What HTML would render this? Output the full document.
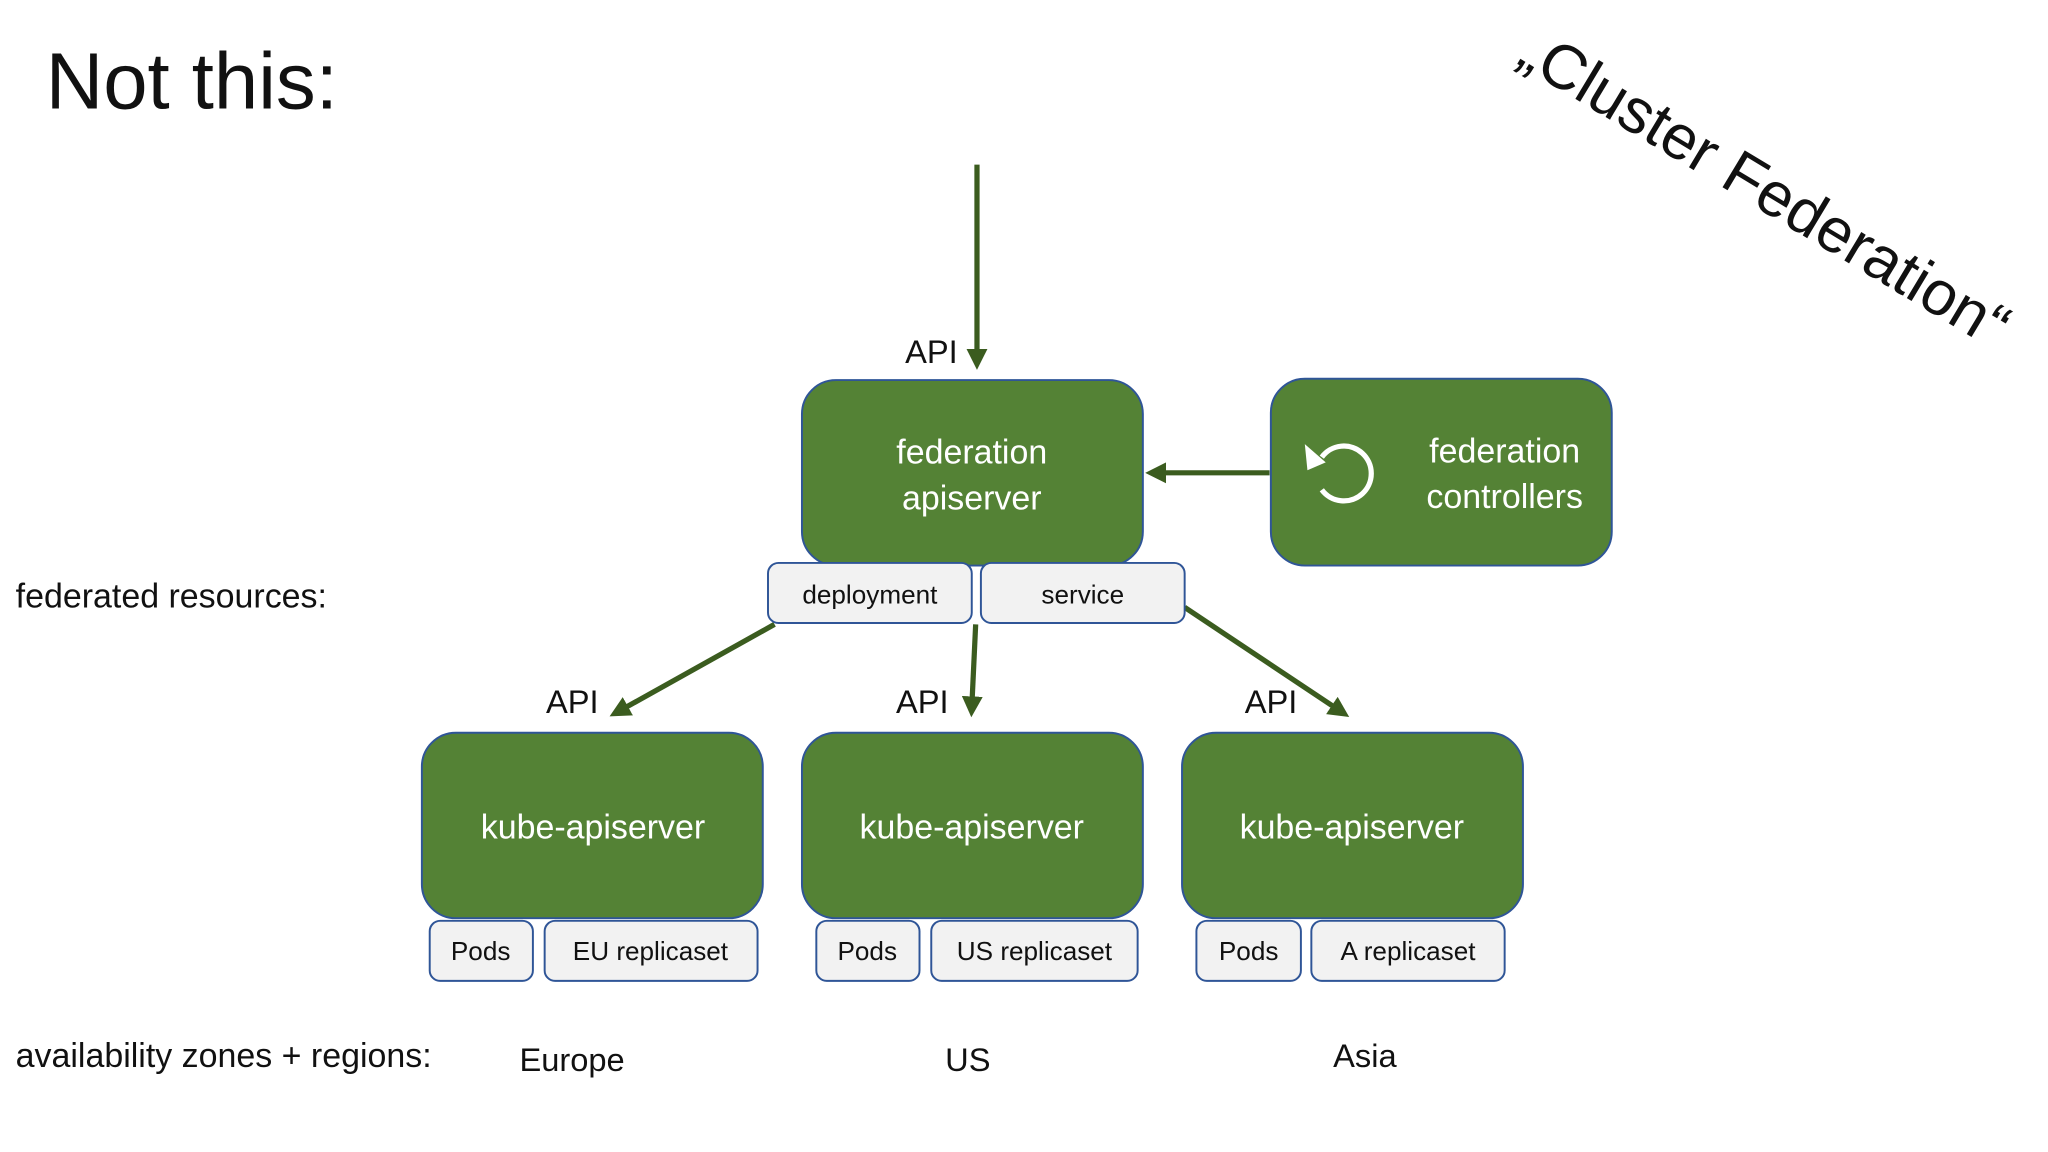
<!DOCTYPE html>
<html><head><meta charset="utf-8"><style>
html,body{margin:0;padding:0;background:#fff;}
svg{display:block;font-family:"Liberation Sans",sans-serif;}
</style></head><body>
<svg width="2048" height="1152" viewBox="0 0 1568 882" xmlns="http://www.w3.org/2000/svg">
<defs>
<marker id="ah" markerWidth="4" markerHeight="4" refX="2.2" refY="2" orient="auto" markerUnits="strokeWidth">
<path d="M0,0 L4,2 L0,4 Z" fill="#3b5c1f"/>
</marker>
</defs>
<rect width="1568" height="882" fill="#fff"/>
<text x="35" y="83" font-size="61" fill="#111">Not this:</text>
<text x="1160" y="48" font-size="48" fill="#111" transform="rotate(31 1160 48)">„Cluster Federation“</text>

<g stroke="#3b5c1f" stroke-width="4" fill="none" marker-end="url(#ah)">
<line x1="748" y1="126" x2="748" y2="276"/>
<line x1="972" y1="362" x2="884" y2="362"/>
<line x1="593" y1="478" x2="473" y2="545"/>
<line x1="747" y1="478" x2="744" y2="542"/>
<line x1="907" y1="465" x2="1027" y2="545"/>
</g>

<g font-size="25" fill="#111">
<text x="693" y="278">API</text>
<text x="418" y="546">API</text>
<text x="686" y="546">API</text>
<text x="953" y="546">API</text>
<text x="12" y="465" font-size="26">federated resources:</text>
<text x="12" y="817" font-size="26">availability zones + regions:</text>
<text x="438" y="820" text-anchor="middle">Europe</text>
<text x="741" y="820" text-anchor="middle">US</text>
<text x="1045" y="817" text-anchor="middle">Asia</text>
</g>

<g fill="#548235" stroke="#2f5597" stroke-width="1.5">
<rect x="614" y="291" width="261" height="142" rx="26"/>
<rect x="973" y="290" width="261" height="143" rx="26"/>
<rect x="323" y="561" width="261" height="142" rx="26"/>
<rect x="614" y="561" width="261" height="142" rx="26"/>
<rect x="905" y="561" width="261" height="142" rx="26"/>
</g>
<g font-size="26" fill="#fff" text-anchor="middle">
<text x="744" y="355">federation</text>
<text x="744" y="390">apiserver</text>
<text x="1152" y="354">federation</text>
<text x="1152" y="389">controllers</text>
<text x="454" y="642">kube-apiserver</text>
<text x="744" y="642">kube-apiserver</text>
<text x="1035" y="642">kube-apiserver</text>
</g>
<g stroke="#fff" stroke-width="4" fill="none">
<path d="M1012,350 A21,21 0 1 1 1012,375"/>
</g>
<path d="M999,340 L1015,354 L1001,360 Z" fill="#fff"/>

<g fill="#f2f2f2" stroke="#2f5597" stroke-width="1.5">
<rect x="588" y="431" width="156" height="46" rx="8"/>
<rect x="751" y="431" width="156" height="46" rx="8"/>
<rect x="329" y="705" width="79" height="46" rx="8"/>
<rect x="417" y="705" width="163" height="46" rx="8"/>
<rect x="625" y="705" width="79" height="46" rx="8"/>
<rect x="713" y="705" width="158" height="46" rx="8"/>
<rect x="916" y="705" width="80" height="46" rx="8"/>
<rect x="1004" y="705" width="148" height="46" rx="8"/>
</g>
<g font-size="20" fill="#111" text-anchor="middle">
<text x="666" y="462">deployment</text>
<text x="829" y="462">service</text>
<text x="368" y="735">Pods</text>
<text x="498" y="735">EU replicaset</text>
<text x="664" y="735">Pods</text>
<text x="792" y="735">US replicaset</text>
<text x="956" y="735">Pods</text>
<text x="1078" y="735">A replicaset</text>
</g>
</svg>
</body></html>
